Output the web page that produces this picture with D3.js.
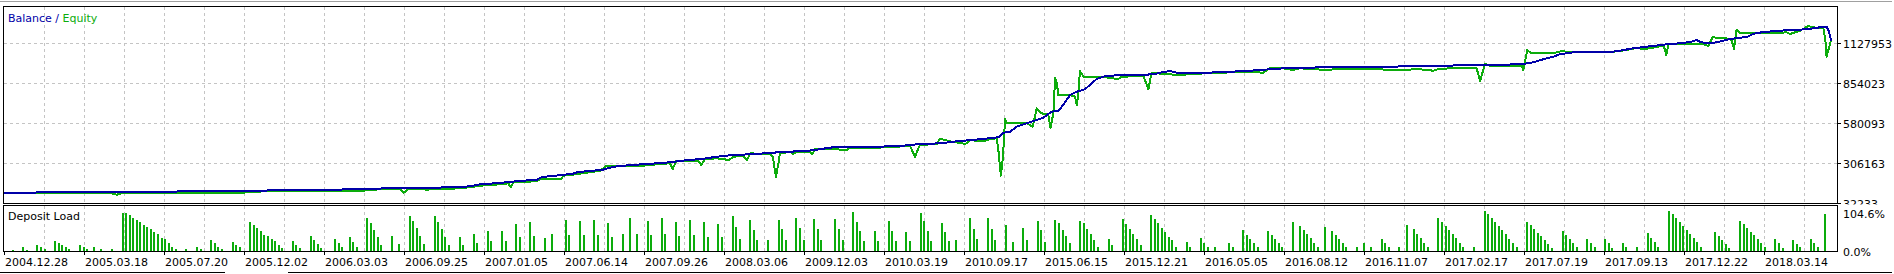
<!DOCTYPE html>
<html>
<head>
<meta charset="utf-8">
<style>
  body { margin: 0; background: #fff; }
  svg { display: block; font-family: "DejaVu Sans", sans-serif; font-size: 11px; }
  .grid { stroke: #c4c4c4; stroke-dasharray: 3,3; shape-rendering: crispEdges; }
  .frame { fill: none; stroke: #000; shape-rendering: crispEdges; }
  .tick { stroke: #000; shape-rendering: crispEdges; }
</style>
</head>
<body>
<script src="https://cdn.jsdelivr.net/npm/d3@7"></script>
<script>
// date labels under the deposit load panel
var dateLabels = ["2004.12.28","2005.03.18","2005.07.20","2005.12.02","2006.03.03","2006.09.25",
  "2007.01.05","2007.06.14","2007.09.26","2008.03.06","2009.12.03","2010.03.19","2010.09.17",
  "2015.06.15","2015.12.21","2016.05.05","2016.08.12","2016.11.07","2017.02.17","2017.07.19",
  "2017.09.13","2017.12.22","2018.03.14"];

var axisValues = [32233, 306163, 580093, 854023, 1127953];
var loadMax = 104.6;
var tradeCount = 515;

// [trade #, balance]
var balance = [[0,100000],[16.2,107500],[67.8,113000],[75.7,119200],[100.2,126000],[107.8,132900],
  [127,139700],[131.2,146600],[134,160300],[139.7,169200],[142,176000],[146.2,184900],[150.1,191800],
  [151.5,210300],[157.2,224000],[160.3,232900],[161.7,244500],[165.1,251400],[168.7,260300],
  [170.7,274000],[172.7,283600],[175.8,290400],[179.7,297300],[184,304100],[187.6,311000],
  [191.3,321900],[193.3,328800],[196.1,331500],[200.8,349300],[204.5,358900],[213,369900],
  [218.1,379400],[221.5,383500],[228,393100],[230.8,404100],[233.6,413700],[246.8,417800],
  [253.3,424600],[257.3,434200],[263.7,441100],[268.5,454800],[275,468500],[280.1,482200],
  [280.7,491100],[281.6,513700],[283.5,520500],[285.4,554800],[288.2,578000],[289.1,584900],
  [292.9,616400],[295.2,657500],[297.1,664300],[298.5,703400],[300.4,771800],[302.3,794400],
  [304.6,810900],[306,840300],[307.9,881400],[310.3,902000],[315.4,908800],[322,910900],
  [324.8,917700],[326.7,929400],[328.6,936200],[330.5,924600],[334.2,920500],[344.6,929400],
  [349.3,936200],[353,941000],[358.7,952000],[365.2,958800],[387.8,965600],[405.6,970400],
  [409.4,975200],[420.7,977300],[428.2,984100],[431,995800],[433.8,1016300],[436.7,1034100],
  [438.5,1050600],[442.3,1064300],[452.6,1066300],[455.4,1075200],[459.2,1091700],[463,1102600],
  [468.6,1119100],[472.4,1125900],[475.2,1134800],[477.1,1148500],[478,1136900],[479.9,1125900],
  [482.7,1132700],[484.6,1143700],[486.5,1155300],[489.3,1164200],[491.2,1169000],[493.1,1191600],
  [495.9,1203300],[503.4,1217000],[508.1,1221800],[511.8,1235500],[513.7,1239600],[514.2,1217000],
  [514.6,1182700],[515,1141700]];

// [trade #, equity]
var equity = [[0,98700],[14.2,98700],[16.2,100700],[29.7,100700],[31.7,89100],[33.1,100700],
  [63.6,100700],[67.8,104100],[69.2,107600],[75.7,114400],[97.4,114400],[100.8,111000],
  [102.2,121300],[107.8,128100],[111.5,126100],[112.6,102800],[113.8,130200],[118,128100],
  [119.1,121300],[120.5,128100],[126.4,130200],[127.6,132900],[131.2,139800],[134.1,150700],
  [139.7,160300],[142,167100],[142.7,141800],[143.6,176000],[147.2,178100],[150,180800],
  [151.4,198600],[157.1,198600],[157.5,219200],[160.3,226000],[164.1,239700],[167.9,253400],
  [169.8,287700],[174.4,285600],[180,287700],[183.9,297300],[187.6,304100],[188.4,265100],
  [189.3,317800],[191.3,319900],[193.3,321900],[195.6,319900],[196.4,292500],[197.5,331500],
  [200.8,338400],[204.3,326700],[205.5,349300],[208.3,354100],[209.3,326700],[210.4,376700],
  [212.1,365700],[215.8,365700],[216.6,349300],[217.5,212300],[218.2,304100],[218.6,372600],
  [221.5,381500],[222.4,367800],[223.3,383500],[227.1,381500],[227.7,365700],[228.5,400000],
  [231.8,404100],[237.4,395200],[238.4,410900],[245.9,410900],[249.7,415700],[255.3,422600],
  [256.7,349300],[258.1,431500],[262.8,434200],[263.7,472600],[266.6,454800],[270.9,436300],
  [272.2,461600],[276,456800],[277.9,468500],[279.7,475300],[280.2,395200],[280.9,219200],
  [281.5,349300],[282.1,607500],[282.6,578000],[288.2,578000],[289.9,554800],[291,680800],
  [292.4,646500],[294.3,634900],[294.9,547900],[295.7,646500],[296.2,886200],[296.7,852000],
  [297.1,771800],[300.4,771800],[301.8,760200],[302.3,703400],[302.7,771800],[303.2,936200],
  [304.2,897200],[308.9,897200],[314,881400],[315,897200],[321.1,902000],[322.5,810900],
  [323.4,924600],[326.7,915700],[331.4,908800],[336.1,917700],[343.6,924600],[349.3,931400],
  [354.9,924600],[356.8,958800],[360.5,954700],[363.3,943100],[365.2,954700],[372.8,943100],
  [376.5,952000],[395.8,943100],[397.6,952000],[402.8,938300],[404.7,952000],[415,958800],
  [416,867700],[417.4,984100],[418.8,972500],[427.7,972500],[428.2,943100],[429.3,1080000],
  [430.5,1057400],[436.6,1057400],[439.5,1075200],[440.4,1064300],[453.6,1068400],[457.4,1080000],
  [460.3,1095800],[462.1,1084800],[467.8,1109500],[468.5,1045800],[469.1,1119100],[479,1119100],
  [480.4,1107400],[481.6,1171100],[482.7,1160100],[485.5,1160100],[486.9,1148500],[487.6,1086900],
  [488.3,1217000],[489.3,1198500],[494.9,1194400],[498.7,1194400],[502.4,1201200],[503.4,1189600],
  [506.2,1212200],[508.5,1244400],[509.9,1235500],[512.8,1228600],[513.4,1136900],[513.7,1034100],
  [514.2,1080000],[514.9,1141700]];

// [trade #, deposit load %]
var depositLoad = [[2,4],[5,12],[6,6],[9,17],[10,13],[11,8],[14,28],[15,22],[16,17],[17,13],[18,8],
  [21,17],[22,12],[23,8],[25,12],[27,8],[30,8],
  [33,99],[34,99],[35,94],[36,88],[37,82],[38,77],[39,68],[40,63],[41,58],[42,52],[43,46],[44,35],
  [45,33],[46,22],[47,14],[48,8],[51,8],[54,14],[55,8],[58,31],[59,22],[60,14],[61,8],
  [64,25],[65,18],[66,13],
  [69,77],[70,68],[71,62],[72,54],[73,44],[74,40],[75,33],[76,28],[77,18],[78,10],
  [81,28],[82,18],[83,9],[86,40],[87,31],[88,20],[89,10],[93,33],[94,22],[95,13],[97,37],[98,26],[99,13],
  [102,86],[103,74],[104,56],[105,38],[106,17],[109,40],[111,20],
  [114,91],[115,79],[116,60],[117,40],[118,20],[121,91],[122,76],[123,58],[124,37],[125,19],
  [128,37],[129,19],[132,45],[133,22],[136,53],[137,27],[140,53],[141,27],[144,71],[145,37],
  [148,76],[149,40],[152,35],[154,45],[158,81],[159,43],[162,78],[163,43],[166,81],[167,43],
  [170,73],[171,37],[174,45],[176,88],[178,45],[181,78],[182,43],[185,86],[186,45],[189,76],[190,40],
  [193,81],[194,43],
  [197,76],[198,37],[201,71],[202,37],[205,91],[206,63],[207,32],[210,81],[211,55],[212,30],[215,30],
  [218,81],[219,58],[220,30],[223,88],[224,60],[225,30],[228,83],[229,58],[230,30],
  [234,83],[235,58],[236,30],[239,101],[240,76],[241,53],[242,27],[245,53],[246,27],
  [249,78],[250,53],[251,27],[254,51],[255,27],[258,99],[259,78],[260,53],[261,27],
  [264,73],[265,51],[266,27],[268,30],[272,88],[273,58],[274,32],[277,86],[278,58],[279,30],
  [282,68],[284,25],[287,60],[288,30],[291,78],[292,55],[293,25],[296,81],[297,73],[298,55],[299,40],[300,22],
  [303,78],[304,73],[305,58],[306,45],[307,30],[308,14],[311,32],[312,17],
  [315,83],[316,71],[317,58],[318,45],[319,32],[320,17],
  [323,94],[324,83],[325,73],[326,60],[327,51],[328,37],[329,30],[330,14],[333,25],[334,12],
  [337,35],[338,22],[339,12],[341,12],[345,22],[346,12],[349,55],[350,43],[351,32],[352,22],[353,12],
  [356,53],[357,43],[358,32],[359,22],[360,12],[363,76],
  [365,66],[366,55],[367,45],[368,35],[369,22],[370,12],[372,63],[374,53],[375,43],[376,32],[377,22],[378,12],
  [381,12],[383,22],[385,12],[388,32],[389,22],[390,12],[393,12],[395,68],
  [397,58],[398,45],[399,35],[400,22],[401,12],
  [404,86],[405,76],[406,66],[407,55],[408,45],[409,35],[410,22],[411,12],[414,12],
  [417,104],[418,98],[419,86],[420,76],[421,66],[422,55],[423,45],[424,32],[425,22],[426,12],
  [429,76],[430,68],[431,58],[432,48],[433,40],[434,30],[435,20],[436,9],
  [439,53],[440,43],[441,32],[442,22],[443,12],[446,32],[447,22],[448,12],[451,32],[452,22],[453,9],
  [456,22],[457,12],[460,12],[463,48],[464,35],[465,25],[466,12],
  [469,104],[470,98],[471,86],[472,76],[473,66],[474,55],[475,45],[476,35],[477,25],[478,12],
  [482,51],[483,40],[484,30],[485,20],[486,9],
  [489,78],[490,71],[491,60],[492,51],[493,43],[494,32],[495,22],[496,12],
  [499,32],[500,22],[501,9],[504,30],[505,20],[506,12],[509,32],[510,22],[511,12],[513,98]];

var blue = "#0000a8", green = "#0cac0c";

var W = 1894, H = 274;
var plot = {l: 3, r: 1837, t: 6, b: 203};   // main frame (pixel rows/cols)
var dep = {t: 205, b: 251};                 // deposit load frame

var svg = d3.select("body").append("svg")
    .attr("width", W).attr("height", H);

var x = d3.scaleLinear().domain([0, tradeCount]).range([4.5, 1831.2]);
var y = d3.scaleLinear().domain([axisValues[0], axisValues[axisValues.length - 1]]).range([203, 43]);
var yLoad = d3.scaleLinear().domain([0, loadMax]).range([252, 211]);
// date labels are spaced evenly along the bottom, grid every half step
var tickX = d3.scaleLinear().domain([0, dateLabels.length - 1]).range([4, 1764]);

var defs = svg.append("defs");
defs.append("clipPath").attr("id", "clipMain").append("rect")
    .attr("x", plot.l + 1).attr("y", plot.t + 1)
    .attr("width", plot.r - plot.l - 1).attr("height", plot.b - plot.t - 1);
defs.append("clipPath").attr("id", "clipDep").append("rect")
    .attr("x", plot.l + 1).attr("y", dep.t + 1)
    .attr("width", plot.r - plot.l - 1).attr("height", dep.b - dep.t);
defs.append("clipPath").attr("id", "clipAxis").append("rect")
    .attr("x", plot.r + 1).attr("y", 0).attr("width", 60).attr("height", dep.t - 0.5);

// outer lines of the window
svg.append("line").attr("x1", 0).attr("x2", 1892).attr("y1", 1.5).attr("y2", 1.5)
    .attr("stroke", "#a0a0a0").style("shape-rendering", "crispEdges");
svg.append("line").attr("x1", 0).attr("x2", 225).attr("y1", 272.5).attr("y2", 272.5)
    .attr("class", "tick");
svg.append("line").attr("x1", 288).attr("x2", 1892).attr("y1", 272.5).attr("y2", 272.5)
    .attr("class", "tick");

// vertical grid
var gridSteps = d3.range(1, (dateLabels.length - 1) * 2 + 2).map(function(k) { return k / 2; });
svg.append("g").selectAll("line.vm")
    .data(gridSteps).enter().append("line")
    .attr("class", "grid")
    .attr("x1", function(d) { return Math.round(tickX(d)) + 0.5; })
    .attr("x2", function(d) { return Math.round(tickX(d)) + 0.5; })
    .attr("y1", plot.t + 1).attr("y2", plot.b);
svg.append("g").selectAll("line.vd")
    .data(gridSteps).enter().append("line")
    .attr("class", "grid")
    .attr("x1", function(d) { return Math.round(tickX(d)) + 0.5; })
    .attr("x2", function(d) { return Math.round(tickX(d)) + 0.5; })
    .attr("y1", dep.t + 1).attr("y2", dep.b);

// horizontal grid
svg.append("g").selectAll("line")
    .data(axisValues.slice(1)).enter().append("line")
    .attr("class", "grid")
    .attr("x1", plot.l + 1).attr("x2", plot.r)
    .attr("y1", function(d) { return Math.round(y(d)) + 0.5; })
    .attr("y2", function(d) { return Math.round(y(d)) + 0.5; });

// equity then balance
var line = d3.line()
    .x(function(d) { return x(d[0]); })
    .y(function(d) { return y(d[1]); });

var lines = svg.append("g").attr("clip-path", "url(#clipMain)");
lines.append("path").datum(equity)
    .attr("d", line)
    .attr("fill", "none").attr("stroke", green).attr("stroke-width", 2)
    .attr("stroke-linejoin", "round")
    .style("shape-rendering", "crispEdges");
lines.append("path").datum(balance)
    .attr("d", line)
    .attr("fill", "none").attr("stroke", blue).attr("stroke-width", 2)
    .attr("stroke-linejoin", "round")
    .style("shape-rendering", "crispEdges");

// deposit load bars
svg.append("g").attr("clip-path", "url(#clipDep)")
    .selectAll("rect")
    .data(depositLoad).enter().append("rect")
    .attr("x", function(d) { return Math.round(x(d[0])); })
    .attr("width", 2)
    .attr("y", function(d) { return Math.round(yLoad(d[1])); })
    .attr("height", function(d) { return yLoad(0) - Math.round(yLoad(d[1])); })
    .attr("fill", green)
    .style("shape-rendering", "crispEdges");

// frames
svg.append("rect").attr("class", "frame")
    .attr("x", plot.l + 0.5).attr("y", plot.t + 0.5)
    .attr("width", plot.r - plot.l).attr("height", plot.b - plot.t);
svg.append("rect").attr("class", "frame")
    .attr("x", plot.l + 0.5).attr("y", dep.t + 0.5)
    .attr("width", plot.r - plot.l).attr("height", dep.b - dep.t);

// right axis
var axisG = svg.append("g").attr("clip-path", "url(#clipAxis)");
axisG.selectAll("line")
    .data(axisValues).enter().append("line")
    .attr("class", "tick")
    .attr("x1", plot.r + 1).attr("x2", plot.r + 4)
    .attr("y1", function(d) { return Math.round(y(d)) + 0.5; })
    .attr("y2", function(d) { return Math.round(y(d)) + 0.5; });
axisG.selectAll("text")
    .data(axisValues).enter().append("text")
    .attr("x", plot.r + 6)
    .attr("y", function(d) { return y(d) + 4.7; })
    .attr("fill", "#000")
    .text(function(d) { return d; });

svg.append("text").attr("x", plot.r + 6).attr("y", yLoad(loadMax) + 7)
    .attr("fill", "#000").text(loadMax.toFixed(1) + "%");
svg.append("text").attr("x", plot.r + 6).attr("y", yLoad(0) + 4)
    .attr("fill", "#000").text((0).toFixed(1) + "%");

// bottom date axis
svg.append("g").selectAll("line")
    .data(dateLabels).enter().append("line")
    .attr("class", "tick")
    .attr("x1", function(d, i) { return Math.round(tickX(i)) + 0.5; })
    .attr("x2", function(d, i) { return Math.round(tickX(i)) + 0.5; })
    .attr("y1", dep.b + 1).attr("y2", dep.b + 4);
svg.append("g").selectAll("text")
    .data(dateLabels).enter().append("text")
    .attr("x", function(d, i) { return tickX(i) + 1; })
    .attr("y", 266)
    .attr("fill", "#000")
    .text(function(d) { return d; });

// panel titles
var legend = svg.append("text").attr("x", 8).attr("y", 21.5);
legend.append("tspan").attr("fill", blue).text("Balance / ");
legend.append("tspan").attr("fill", green).text("Equity");

svg.append("text").attr("x", 8).attr("y", 219.5).attr("fill", "#000").text("Deposit Load");
</script>
</body>
</html>
